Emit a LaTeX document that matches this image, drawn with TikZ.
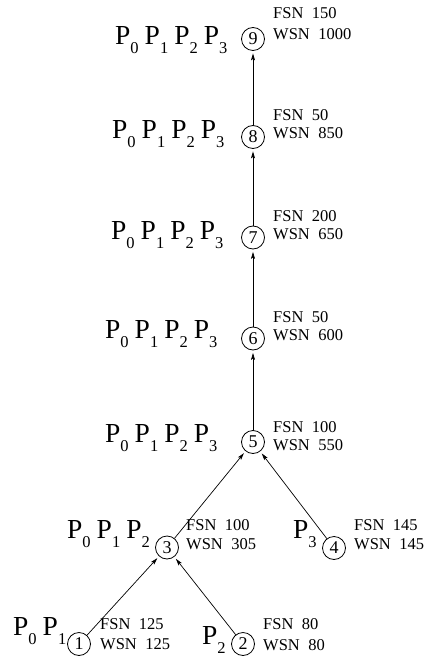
\documentclass[tikz,border=0pt]{standalone}
\usepackage{fontspec}
\setmainfont{Liberation Serif}
\usetikzlibrary{arrows.meta}
\newcommand{\Pk}[1]{{\fontsize{27.5}{27.5}\selectfont P}\raisebox{-9pt}{\fontsize{16.5}{16.5}\selectfont #1}}
\newcommand{\Pgap}{\hspace{6pt}}
\begin{document}
\begin{tikzpicture}[x=1pt,y=-1pt,
  proc/.style={circle,draw,line width=0.8pt,minimum size=23pt,inner sep=0pt,font=\fontsize{18}{18}\selectfont},
  lbl/.style={anchor=base west,inner sep=0pt,font=\fontsize{16.5}{16.5}\selectfont},
  plist/.style={anchor=base west,inner sep=0pt},
  edge/.style={line width=0.7pt,-{Stealth[length=7pt,width=4pt,inset=1.5pt]},shorten >=2.5pt}]
\useasboundingbox (0,0) rectangle (424,660);
% nodes
\node[proc] (n9) at (253,39) {9};
\node[proc] (n8) at (253,137) {8};
\node[proc] (n7) at (253,237.5) {7};
\node[proc] (n6) at (253,338.5) {6};
\node[proc] (n5) at (253,442) {5};
\node[proc] (n3) at (167,547.5) {3};
\node[proc] (n4) at (334,548) {4};
\node[proc] (n1) at (79,644) {1};
\node[proc] (n2) at (243,644) {2};
% labels
\node[lbl] (f9) at (273,19) {FSN\hspace{8.5pt}150};
\node[lbl] (w9) at (273,40) {WSN\hspace{8.5pt}1000};
\node[lbl] (f8) at (273,121) {FSN\hspace{8.5pt}50};
\node[lbl] (w8) at (273,139) {WSN\hspace{8.5pt}850};
\node[lbl] (f7) at (273,221) {FSN\hspace{8.5pt}200};
\node[lbl] (w7) at (273,239) {WSN\hspace{8.5pt}650};
\node[lbl] (f6) at (273,322) {FSN\hspace{8.5pt}50};
\node[lbl] (w6) at (273,340) {WSN\hspace{8.5pt}600};
\node[lbl] (f5) at (273,432) {FSN\hspace{8.5pt}100};
\node[lbl] (w5) at (273,450) {WSN\hspace{8.5pt}550};
\node[lbl] (f3) at (186,530) {FSN\hspace{8.5pt}100};
\node[lbl] (w3) at (186,549) {WSN\hspace{8.5pt}305};
\node[lbl] (f4) at (354,530) {FSN\hspace{8.5pt}145};
\node[lbl] (w4) at (354,549) {WSN\hspace{8.5pt}145};
\node[lbl] (f1) at (100,629) {FSN\hspace{8.5pt}125};
\node[lbl] (w1) at (100,649) {WSN\hspace{8.5pt}125};
\node[lbl] (f2) at (263,629) {FSN\hspace{8.5pt}80};
\node[lbl] (w2) at (263,650) {WSN\hspace{8.5pt}80};
% processor lists
\node[plist] (p9) at (115,45) {\Pk{0}\Pgap\Pk{1}\Pgap\Pk{2}\Pgap\Pk{3}};
\node[plist] (p8) at (112,139) {\Pk{0}\Pgap\Pk{1}\Pgap\Pk{2}\Pgap\Pk{3}};
\node[plist] (p7) at (111,239) {\Pk{0}\Pgap\Pk{1}\Pgap\Pk{2}\Pgap\Pk{3}};
\node[plist] (p6) at (105,338) {\Pk{0}\Pgap\Pk{1}\Pgap\Pk{2}\Pgap\Pk{3}};
\node[plist] (p5) at (105,442) {\Pk{0}\Pgap\Pk{1}\Pgap\Pk{2}\Pgap\Pk{3}};
\node[plist] (p3) at (67,538) {\Pk{0}\Pgap\Pk{1}\Pgap\Pk{2}};
\node[plist] (p4) at (293,538) {\Pk{3}};
\node[plist] (p1) at (13,635) {\Pk{0}\Pgap\Pk{1}};
\node[plist] (p2) at (202,644) {\Pk{2}};
% edges
\draw[edge] (n1) -- (n3);
\draw[edge] (n2) -- (n3);
\draw[edge] (n3) -- (n5);
\draw[edge] (n4) -- (n5);
\draw[edge] (n5) -- (n6);
\draw[edge] (n6) -- (n7);
\draw[edge] (n7) -- (n8);
\draw[edge] (n8) -- (n9);
\end{tikzpicture}
\end{document}
